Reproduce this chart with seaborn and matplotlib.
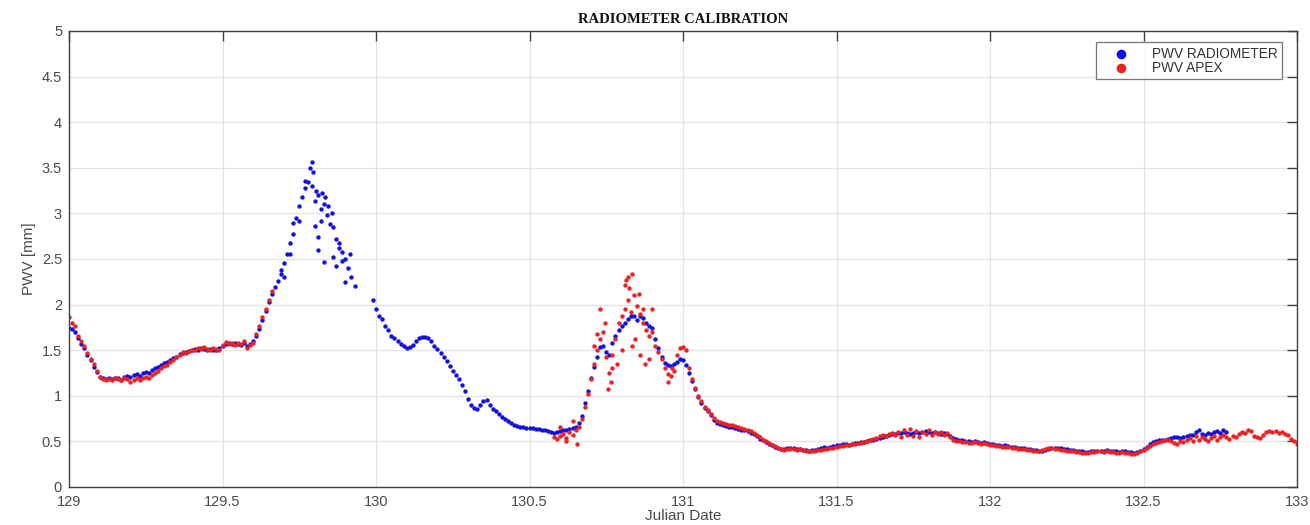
import numpy as np
import pandas as pd
import matplotlib
matplotlib.use("Agg")
import matplotlib.pyplot as plt
import seaborn as sns

# ---- data (step 0.01 day) ----
step = 0.01

# radiometer, part 1: 129.00 .. 129.93
radio_a_start = 129.00
radio_a = [1.74, 1.73, 1.70, 1.63, 1.57, 1.52, 1.45, 1.39, 1.32, 1.26,
           1.21, 1.19, 1.18, 1.19, 1.18, 1.20, 1.19, 1.17, 1.21, 1.22,
           1.21, 1.23, 1.24, 1.22, 1.25, 1.26, 1.25, 1.28, 1.30, 1.32,
           1.34, 1.36, 1.37, 1.39, 1.41, 1.43, 1.46, 1.47, 1.48, 1.49,
           1.50, 1.51, 1.50, 1.52, 1.51, 1.50, 1.51, 1.50, 1.50, 1.52,
           1.55, 1.57, 1.58, 1.57, 1.58, 1.57, 1.56, 1.58, 1.55, 1.57,
           1.60, 1.66, 1.73, 1.83, 1.93, 2.03, 2.12, 2.19, 2.26, 2.33,
           2.46, 2.56, 2.68, 2.77, 2.95, 3.08, 3.18, 3.28, 3.34, 3.30,
           3.14, 3.20, 3.05, 3.10, 2.98, 2.88, 2.85, 2.72, 2.62, 2.58,
           2.50, 2.40, 2.30, 2.20]

# radiometer, part 2: 129.99 .. 132.77
radio_b_start = 129.99
radio_b = [2.05, 1.95, 1.88, 1.84, 1.77, 1.72, 1.66, 1.63, 1.60, 1.57,
           1.55, 1.52, 1.53, 1.56, 1.60, 1.63, 1.65, 1.64, 1.63, 1.60,
           1.55, 1.51, 1.47, 1.42, 1.38, 1.33, 1.27, 1.23, 1.18, 1.12,
           1.05, 0.96, 0.90, 0.87, 0.86, 0.90, 0.94, 0.95, 0.90, 0.86,
           0.83, 0.80, 0.77, 0.75, 0.72, 0.70, 0.68, 0.67, 0.66, 0.66,
           0.65, 0.65, 0.65, 0.64, 0.64, 0.63, 0.62, 0.61, 0.60, 0.59,
           0.60, 0.61, 0.62, 0.63, 0.64, 0.65, 0.66, 0.70, 0.78, 0.92,
           1.05, 1.20, 1.32, 1.42, 1.53, 1.55, 1.48, 1.45, 1.58, 1.66,
           1.72, 1.76, 1.80, 1.84, 1.88, 1.87, 1.83, 1.88, 1.85, 1.80,
           1.76, 1.74, 1.62, 1.52, 1.42, 1.36, 1.34, 1.33, 1.35, 1.37,
           1.40, 1.39, 1.34, 1.25, 1.16, 1.07, 0.99, 0.92, 0.87, 0.83,
           0.79, 0.73, 0.70, 0.69, 0.68, 0.67, 0.66, 0.66, 0.65, 0.64,
           0.63, 0.62, 0.61, 0.59, 0.58, 0.56, 0.53, 0.51, 0.49, 0.47,
           0.46, 0.44, 0.43, 0.42, 0.42, 0.43, 0.43, 0.43, 0.42, 0.42,
           0.41, 0.41, 0.40, 0.41, 0.41, 0.42, 0.43, 0.44, 0.43, 0.44,
           0.45, 0.46, 0.46, 0.47, 0.47, 0.46, 0.47, 0.48, 0.48, 0.49,
           0.49, 0.50, 0.51, 0.52, 0.53, 0.54, 0.55, 0.56, 0.57, 0.58,
           0.58, 0.59, 0.59, 0.60, 0.59, 0.58, 0.59, 0.60, 0.59, 0.60,
           0.61, 0.60, 0.59, 0.60, 0.59, 0.58, 0.59, 0.58, 0.56, 0.54,
           0.53, 0.52, 0.51, 0.50, 0.50, 0.49, 0.50, 0.49, 0.48, 0.49,
           0.48, 0.47, 0.47, 0.46, 0.46, 0.45, 0.46, 0.45, 0.44, 0.44,
           0.43, 0.43, 0.43, 0.42, 0.42, 0.41, 0.41, 0.40, 0.40, 0.41,
           0.42, 0.43, 0.43, 0.43, 0.43, 0.42, 0.42, 0.41, 0.41, 0.40,
           0.39, 0.39, 0.38, 0.38, 0.39, 0.39, 0.40, 0.40, 0.40, 0.41,
           0.40, 0.39, 0.39, 0.38, 0.39, 0.39, 0.38, 0.38, 0.37, 0.38,
           0.40, 0.42, 0.44, 0.47, 0.49, 0.50, 0.51, 0.51, 0.52, 0.53,
           0.54, 0.55, 0.55, 0.54, 0.55, 0.56, 0.57, 0.57, 0.60, 0.62,
           0.58, 0.57, 0.59, 0.58, 0.60, 0.61, 0.59, 0.62, 0.60]

# scattered radiometer points around the 129.8 peak
radio_extra_t = [129.69, 129.70, 129.72, 129.73, 129.75, 129.77, 129.785,
                 129.79, 129.795, 129.80, 129.805, 129.81, 129.812, 129.82,
                 129.825, 129.83, 129.835, 129.845, 129.855, 129.86, 129.87,
                 129.88, 129.89, 129.90, 129.915]
radio_extra_v = [2.38, 2.30, 2.55, 2.90, 2.92, 3.36, 3.50,
                 3.56, 3.45, 2.86, 3.25, 2.74, 2.60, 2.92,
                 3.22, 2.47, 3.18, 3.08, 3.00, 2.52, 2.42,
                 2.68, 2.48, 2.25, 2.55]

# APEX, part 1: 129.00 .. 129.66
apex_a_start = 129.00
apex_a = [1.86, 1.80, 1.76, 1.66, 1.60, 1.55, 1.47, 1.40, 1.35, 1.27,
          1.21, 1.18, 1.17, 1.18, 1.17, 1.19, 1.18, 1.17, 1.20, 1.18,
          1.15, 1.17, 1.19, 1.17, 1.20, 1.21, 1.20, 1.23, 1.25, 1.27,
          1.30, 1.33, 1.34, 1.37, 1.39, 1.42, 1.45, 1.48, 1.47, 1.49,
          1.50, 1.50, 1.52, 1.51, 1.53, 1.51, 1.50, 1.52, 1.51, 1.50,
          1.56, 1.59, 1.57, 1.58, 1.56, 1.58, 1.57, 1.60, 1.52, 1.56,
          1.58, 1.68, 1.76, 1.86, 1.95, 2.05, 2.15]

# APEX, part 2: 130.58 .. 133.00
apex_b_start = 130.58
apex_b = [0.55, 0.53, 0.56, 0.58, 0.54, 0.60, 0.57, 0.62, 0.66, 0.74,
          0.88, 1.02, 1.18, 1.35, 1.50, 1.62, 1.70, 1.42, 1.25, 1.45,
          1.62, 1.80, 1.88, 1.95, 2.05, 1.92, 2.10, 1.98, 1.90, 1.80,
          1.72, 1.66, 1.70, 1.55, 1.48, 1.40, 1.30, 1.24, 1.22, 1.27,
          1.45, 1.52, 1.53, 1.50, 1.30, 1.18, 1.08, 1.00, 0.94, 0.88,
          0.84, 0.80, 0.76, 0.72, 0.71, 0.70, 0.69, 0.68, 0.68, 0.67,
          0.66, 0.65, 0.64, 0.63, 0.61, 0.59, 0.57, 0.55, 0.52, 0.50,
          0.48, 0.46, 0.45, 0.43, 0.42, 0.41, 0.42, 0.42, 0.42, 0.41,
          0.42, 0.41, 0.40, 0.39, 0.40, 0.40, 0.41, 0.41, 0.42, 0.42,
          0.43, 0.43, 0.44, 0.45, 0.45, 0.46, 0.46, 0.47, 0.47, 0.48,
          0.48, 0.49, 0.50, 0.52, 0.53, 0.54, 0.56, 0.57, 0.56, 0.58,
          0.59, 0.57, 0.60, 0.55, 0.62, 0.57, 0.64, 0.56, 0.61, 0.55,
          0.60, 0.58, 0.62, 0.57, 0.60, 0.58, 0.60, 0.57, 0.59, 0.55,
          0.52, 0.50, 0.50, 0.49, 0.49, 0.48, 0.48, 0.49, 0.48, 0.47,
          0.48, 0.47, 0.46, 0.46, 0.45, 0.45, 0.44, 0.44, 0.44, 0.43,
          0.43, 0.42, 0.42, 0.42, 0.41, 0.41, 0.40, 0.40, 0.40, 0.41,
          0.42, 0.43, 0.43, 0.42, 0.42, 0.41, 0.41, 0.40, 0.40, 0.39,
          0.38, 0.38, 0.37, 0.37, 0.37, 0.38, 0.38, 0.39, 0.39, 0.38,
          0.39, 0.38, 0.38, 0.37, 0.37, 0.38, 0.37, 0.37, 0.36, 0.36,
          0.37, 0.39, 0.41, 0.43, 0.45, 0.47, 0.48, 0.49, 0.50, 0.51,
          0.52, 0.50, 0.48, 0.47, 0.50, 0.49, 0.52, 0.54, 0.50, 0.56,
          0.51, 0.55, 0.53, 0.50, 0.54, 0.56, 0.52, 0.55, 0.57, 0.55,
          0.53, 0.56, 0.55, 0.58, 0.60, 0.59, 0.62, 0.61, 0.56, 0.55,
          0.54, 0.57, 0.60, 0.61, 0.60, 0.61, 0.59, 0.60, 0.58, 0.57,
          0.53, 0.50, 0.47]

# scattered APEX points around the 130.8 peak
apex_extra_t = [130.60, 130.62, 130.64, 130.655, 130.71, 130.72, 130.73,
                130.745, 130.755, 130.765, 130.77, 130.785, 130.80, 130.81,
                130.815, 130.82, 130.825, 130.834, 130.835, 130.845, 130.855,
                130.86, 130.87, 130.875, 130.89, 130.90, 130.95, 130.965]
apex_extra_v = [0.66, 0.50, 0.72, 0.47, 1.55, 1.68, 1.95,
                1.80, 1.07, 1.15, 1.30, 1.35, 1.50, 2.22,
                2.27, 2.30, 2.18, 2.34, 1.55, 1.62, 2.12,
                1.45, 1.95, 1.35, 1.40, 1.95, 1.15, 1.30]


def series(start, values):
    t = start + step * np.arange(len(values))
    return pd.DataFrame({"JD": t, "PWV": values})


radio = pd.concat([series(radio_a_start, radio_a),
                   series(radio_b_start, radio_b),
                   pd.DataFrame({"JD": radio_extra_t, "PWV": radio_extra_v})])
apex = pd.concat([series(apex_a_start, apex_a),
                  series(apex_b_start, apex_b),
                  pd.DataFrame({"JD": apex_extra_t, "PWV": apex_extra_v})])

sns.set_style("white")
plt.rcParams["font.family"] = ["Liberation Sans", "DejaVu Sans"]

fig = plt.figure(figsize=(13.1, 5.25), dpi=100)
ax = fig.add_axes([0.0527, 0.0724, 0.9374, 0.8686])

sns.scatterplot(data=radio, x="JD", y="PWV", color="#1010e0", s=10,
                linewidth=0, label="PWV RADIOMETER", ax=ax)
sns.scatterplot(data=apex, x="JD", y="PWV", color="#ee2020", s=10,
                linewidth=0, label="PWV APEX", ax=ax)

ax.set_xlim(129, 133)
ax.set_ylim(0, 5)
ax.set_xticks(np.arange(129, 133.01, 0.5))
ax.set_yticks(np.arange(0, 5.01, 0.5))
ax.set_xticklabels(["129", "129.5", "130", "130.5", "131", "131.5", "132",
                    "132.5", "133"])
ax.set_yticklabels(["0", "0.5", "1", "1.5", "2", "2.5", "3", "3.5", "4",
                    "4.5", "5"])
ax.grid(True, color="#e3e3e3", linewidth=0.9)
ax.set_axisbelow(True)
ax.tick_params(direction="in", length=7.5, width=1, top=True, right=True,
               labelsize=10.5, colors="#404040", labelcolor="#4a4a4a")
ax.tick_params(axis="x", pad=6)
ax.tick_params(axis="y", pad=5)
for sp in ax.spines.values():
    sp.set_color("#404040")
    sp.set_linewidth(1.0)

ax.set_xlabel("Julian Date", fontsize=11, color="#4a4a4a", labelpad=0)
ax.set_ylabel("PWV [mm]", fontsize=11, color="#4a4a4a", labelpad=4)
ax.set_title("RADIOMETER CALIBRATION", fontsize=10.5, fontweight="bold",
             family="Liberation Serif", color="#111111", pad=6)

leg = ax.legend(loc="upper right", bbox_to_anchor=(0.9878, 0.9759),
                markerscale=2.2, fontsize=9.8, frameon=True, fancybox=False,
                borderpad=0.35, handletextpad=0.75, labelspacing=0.0,
                handlelength=3.0, borderaxespad=0)
leg.get_frame().set_edgecolor("#555555")
leg.get_frame().set_linewidth(0.9)
for txt in leg.get_texts():
    txt.set_color("#333333")

fig.savefig("out.png", dpi=100)
